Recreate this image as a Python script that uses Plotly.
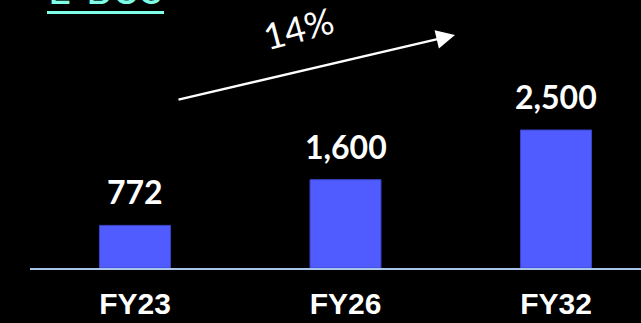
import plotly.graph_objects as go

categories = ["FY23", "FY26", "FY32"]
values = [772, 1600, 2500]
value_labels = ["772", "1,600", "2,500"]
title_text = "E-BUS"
cagr_text = "14%"

W, H = 641, 323
ML, MR, MT, MB = 30, 0, 0, 55
PW, PH = W - ML - MR, H - MT - MB

def px_to_paper(px, py):
    return (px - ML) / PW, (H - MB - py) / PH

fig = go.Figure()
fig.add_trace(go.Bar(
    x=categories, y=values, width=0.337,
    marker=dict(color="#505CFF", line=dict(color="#3A45C8", width=1)),
    hoverinfo="skip",
))

for c, v, t in zip(categories, values, value_labels):
    fig.add_annotation(x=c, y=v, xref="x", yref="y", text=f"<b>{t}</b>",
                       showarrow=False, yanchor="bottom", yshift=12,
                       font=dict(family="Lato", size=32, color="white"))

# growth arrow
tx, ty = px_to_paper(455, 35)
fig.add_annotation(x=tx, y=ty, xref="paper", yref="paper", text="",
                   showarrow=True, ax=177 - 455, ay=100 - 35,
                   arrowhead=2, arrowsize=1.5, arrowwidth=2.5, arrowcolor="white")
cx, cy = px_to_paper(298, 28)
fig.add_annotation(x=cx, y=cy, xref="paper", yref="paper", text=cagr_text,
                   showarrow=False, textangle=-15, xanchor="center", yanchor="middle",
                   font=dict(family="Lato", size=36, color="white"))

# title (partially cut off at the top)
tx0, ty0 = px_to_paper(105, 7)
fig.add_annotation(x=tx0, y=ty0, xref="paper", yref="paper", text=title_text,
                   showarrow=False, yanchor="bottom", xanchor="center", yshift=-8,
                   font=dict(family="Lato", size=40, color="#7FFFE6"))
ux0, uy = px_to_paper(47, 12.5)
ux1, _ = px_to_paper(164, 12.5)
fig.add_shape(type="line", xref="paper", yref="paper", x0=ux0, x1=ux1, y0=uy, y1=uy,
              line=dict(color="#7FFFE6", width=3))

fig.update_layout(
    width=W, height=H,
    margin=dict(l=ML, r=MR, t=MT, b=MB),
    paper_bgcolor="black", plot_bgcolor="black",
    showlegend=False,
    xaxis=dict(range=[-0.4988, 2.4038], showgrid=False, zeroline=False,
               showline=True, linecolor="#A9C6EA", linewidth=2,
               ticks="outside", ticklen=8, tickcolor="rgba(0,0,0,0)",
               tickfont=dict(family="Liberation Sans", size=30, color="white"),
               tickprefix="<b>", ticksuffix="</b>", fixedrange=True),
    yaxis=dict(range=[0, 4855], visible=False, showgrid=False, zeroline=False,
               fixedrange=True),
)

fig.write_html("out.html", config={"displayModeBar": False},
               post_script="document.body.style.margin='0';document.body.style.background='black';")
